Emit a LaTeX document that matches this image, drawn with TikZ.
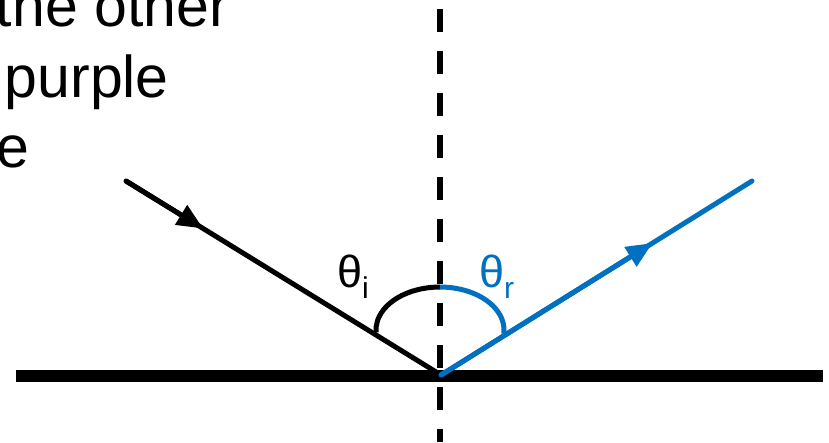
\documentclass[tikz,border=0pt]{standalone}
\usepackage{fontspec}
\setmainfont{Liberation Sans}
\usetikzlibrary{arrows.meta,calc}
\definecolor{rayblue}{RGB}{0,112,192}
\begin{document}
\begin{tikzpicture}[x=1pt,y=1pt,
  ray/.style={line width=5pt},
  tiptri/.style={-{Triangle[length=26pt,width=22pt]}},
  anglearc/.style={line width=5pt},
  bigtext/.style={inner sep=0pt,font=\fontsize{59}{70}\selectfont},
  anglabel/.style={inner sep=0pt,anchor=base west,font=\fontsize{45}{50}\selectfont}]
\useasboundingbox (0,0) rectangle (829,442);
% coordinates
\coordinate (L) at (16,66);
\coordinate (R) at (823,66);
\coordinate (T) at (440,433);
\coordinate (D) at (440,0);
\coordinate (A) at (126,261);
\coordinate (V) at (441,67);
\coordinate (B) at (752,261);
\coordinate (C) at (440,112);
% partial text
\node[bigtext,anchor=base east] (t1) at (229,415) {the other};
\node[bigtext,anchor=base east] (t2) at (169,344) {purple};
\node[bigtext,anchor=base east] (t3) at (30,274) {e};
% normal
\draw[line width=5.5pt,dash pattern=on 23pt off 19pt] (T) -- (D);
% surface
\draw[line width=12pt] (L) -- (R);
% incident ray
\draw[ray,line cap=round] (A) -- (V);
\draw[ray,tiptri] (A) -- ($(A)!0.245!(V)$);
% reflected ray
\draw[ray,rayblue,line cap=round] (V) -- (B);
\draw[ray,rayblue,tiptri] (V) -- ($(V)!0.68!(B)$);
% angle arcs
\draw[anglearc] (C) ++(183:64 and 43) arc[start angle=183,end angle=90,x radius=64,y radius=43];
\draw[anglearc,rayblue] (C) ++(90:64 and 43) arc[start angle=90,end angle=-5,x radius=64,y radius=43];
% labels
\node[anglabel] (thi) at (337,155) {θ\raisebox{-11pt}{\fontsize{30}{30}\selectfont i}};
\node[anglabel,text=rayblue] (thr) at (479,155) {θ\raisebox{-11pt}{\fontsize{30}{30}\selectfont r}};
\end{tikzpicture}
\end{document}
